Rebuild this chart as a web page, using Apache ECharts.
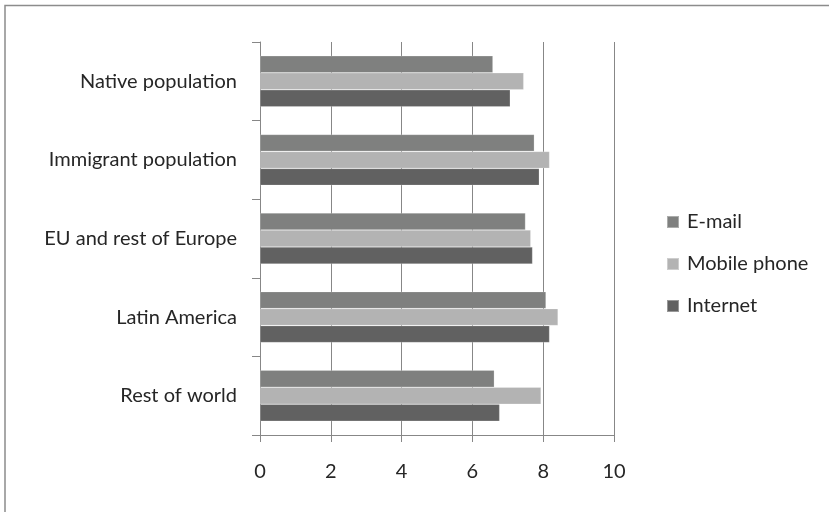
<!DOCTYPE html>
<html>
<head>
<meta charset="utf-8">
<script src="https://cdn.jsdelivr.net/npm/echarts@6/dist/echarts.min.js"></script>
<style>
html,body{margin:0;padding:0;background:#fff;}
#chart{width:829px;height:512px;}
</style>
</head>
<body>
<div id="chart"></div>
<script>
const categories = ['Native population', 'Immigrant population', 'EU and rest of Europe', 'Latin America', 'Rest of world'];
const seriesNames = ['E-mail', 'Mobile phone', 'Internet'];
const emailValues = [6.58, 7.75, 7.50, 8.08, 6.62];
const mobileValues = [7.45, 8.18, 7.65, 8.42, 7.94];
const internetValues = [7.07, 7.89, 7.70, 8.18, 6.77];
const xTicks = [0, 2, 4, 6, 8, 10];
const colors = ['#7f807f', '#b3b3b3', '#616161'];

const chart = echarts.init(document.getElementById('chart'), null, {renderer: 'canvas'});
const font = 'Lato';
const txt = '#262626';
const axisGrey = '#878787';
const valuesList = [emailValues, mobileValues, internetValues];

chart.setOption({
  animation: false,
  backgroundColor: '#fff',
  graphic: [{
    type: 'rect',
    shape: {x: 5, y: 5.5, width: 1000, height: 1000},
    style: {fill: 'none', stroke: '#8c8c8c', lineWidth: 1.5},
    silent: true
  }],
  grid: {left: 260, right: 215, top: 42, bottom: 77, containLabel: false},
  legend: {
    orient: 'vertical',
    left: 661,
    top: 207,
    icon: 'rect',
    itemWidth: 12,
    itemHeight: 12,
    itemGap: 22,
    data: seriesNames,
    textStyle: {fontFamily: font, fontSize: 20, color: txt, padding: [0, 0, 0, 3]}
  },
  xAxis: {
    type: 'value',
    min: xTicks[0],
    max: xTicks[xTicks.length - 1],
    interval: 2,
    axisLine: {show: true, lineStyle: {color: axisGrey, width: 1}},
    axisTick: {show: true, length: 7, lineStyle: {color: axisGrey}},
    splitLine: {show: true, lineStyle: {color: axisGrey, width: 1}},
    axisLabel: {fontFamily: font, fontSize: 20, color: txt, margin: 27}
  },
  yAxis: {
    type: 'category',
    inverse: true,
    data: categories,
    axisLine: {show: true, lineStyle: {color: axisGrey, width: 1}},
    axisTick: {show: true, length: 8, lineStyle: {color: axisGrey}},
    axisLabel: {fontFamily: font, fontSize: 20, color: txt, margin: 23}
  },
  series: seriesNames.map((name, i) => ({
    name: name,
    type: 'bar',
    data: valuesList[i],
    barWidth: 17,
    barGap: '0%',
    itemStyle: {color: colors[i], borderColor: 'rgba(255,255,255,0.35)', borderWidth: 0.6}
  }))
});
</script>
</body>
</html>
